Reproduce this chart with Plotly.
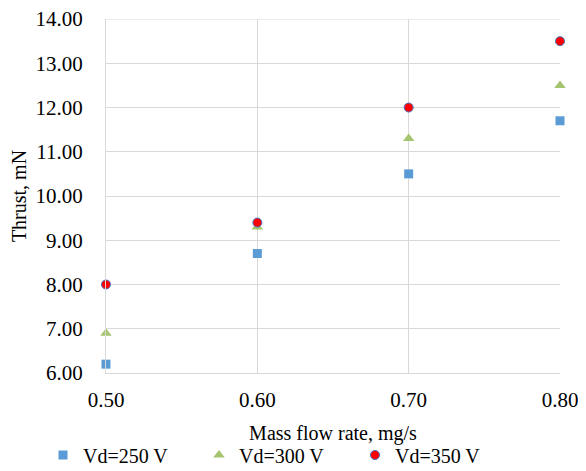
import plotly.graph_objects as go

mass_flow = [0.50, 0.60, 0.70, 0.80]
thrust_250 = [6.2, 8.7, 10.5, 11.7]
thrust_300 = [6.9, 9.3, 11.3, 12.5]
thrust_350 = [8.0, 9.4, 12.0, 13.5]
y_ticks = [6, 7, 8, 9, 10, 11, 12, 13, 14]
x_ticks = [0.5, 0.6, 0.7, 0.8]

FONT = "Times New Roman, Liberation Serif, serif"
# page body has an 8px margin, so the figure is shifted by 8px
OFF = 8
W, H = 586 - OFF, 471 - OFF
L, R, T, B = 106 - OFF, 26, 19 - OFF, 98
pw, ph = W - L - R, H - T - B

def px_to_paper_x(px):
    return (px - OFF - L) / pw

def px_to_paper_y(py):
    return (OFF + H - B - py) / ph

fig = go.Figure()
fig.add_trace(go.Scatter(x=mass_flow, y=thrust_250, mode="markers", name="Vd=250 V",
                         legend="legend",
                         marker=dict(symbol="square", size=9, color="#5B9BD5")))
fig.add_trace(go.Scatter(x=mass_flow, y=thrust_300, mode="markers", name="Vd=300 V",
                         legend="legend2",
                         marker=dict(symbol="triangle-up", size=10, color="#A5C46E")))
fig.add_trace(go.Scatter(x=mass_flow, y=thrust_350, mode="markers", name="Vd=350 V",
                         legend="legend3",
                         marker=dict(symbol="circle", size=9, color="#FF0000",
                                     line=dict(color="#4472C4", width=1))))

leg_common = dict(orientation="h", yanchor="middle", xanchor="left",
                  font=dict(family=FONT, size=20, color="black"),
                  bgcolor="rgba(0,0,0,0)", itemwidth=30)
legend_y = px_to_paper_y(455)

fig.update_layout(
    width=W, height=H,
    margin=dict(l=L, r=R, t=T, b=B, autoexpand=False),
    paper_bgcolor="white", plot_bgcolor="white",
    font=dict(family=FONT, size=20, color="black"),
    showlegend=True,
    legend=dict(x=px_to_paper_x(43), y=legend_y, **leg_common),
    legend2=dict(x=px_to_paper_x(199), y=legend_y, **leg_common),
    legend3=dict(x=px_to_paper_x(355), y=legend_y, **leg_common),
    xaxis=dict(range=[0.5, 0.8], tickvals=x_ticks, ticktext=[f"{v:.2f}" for v in x_ticks],
               showgrid=True, gridcolor="#D9D9D9", gridwidth=1,
               showline=True, linecolor="#D9D9D9", linewidth=1, zeroline=False,
               ticks="", ticklabelstandoff=8, automargin=False,
               title=dict(text="Mass flow rate, mg/s", standoff=14,
                          font=dict(family=FONT, size=20, color="black")),
               tickfont=dict(family=FONT, size=21, color="black")),
    yaxis=dict(range=[6, 14.0005], tickvals=y_ticks, ticktext=[f"{v:.2f}" for v in y_ticks],
               showgrid=True, gridcolor="#D9D9D9", gridwidth=1,
               showline=True, linecolor="#D9D9D9", linewidth=1, zeroline=False,
               ticks="", ticklabelstandoff=18, automargin=False,
               ticklabeloverflow="allow",
               title=dict(text="Thrust, mN", standoff=8,
                          font=dict(family=FONT, size=20, color="black")),
               tickfont=dict(family=FONT, size=21, color="black")),
)
fig.add_shape(type="line", xref="paper", yref="y", x0=0, x1=1, y0=14, y1=14,
              line=dict(color="#D9D9D9", width=1), layer="below")
fig.update_traces(cliponaxis=False)
fig.write_html("out.html")
